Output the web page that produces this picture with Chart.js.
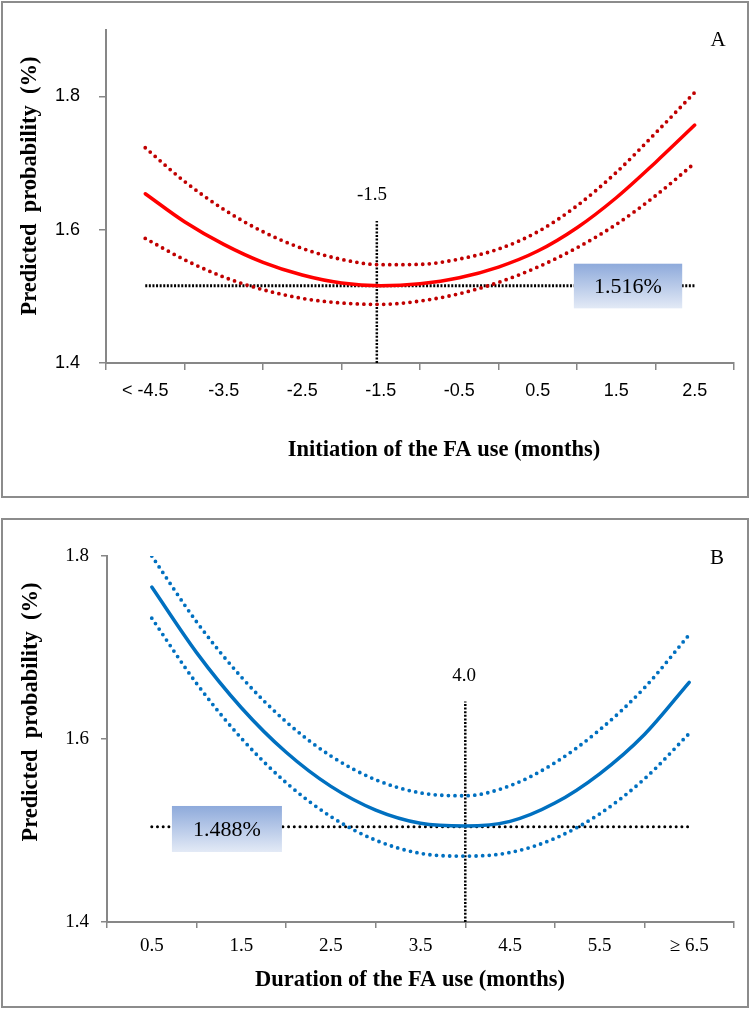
<!DOCTYPE html>
<html>
<head>
<meta charset="utf-8">
<script src="https://cdn.jsdelivr.net/npm/chart.js@4.4.0/dist/chart.umd.min.js"></script>
<style>
  body { margin: 0; background: #fff; }
  #page { position: relative; width: 750px; height: 1009px; overflow: hidden; }
  canvas { position: absolute; left: 0; }
  .frame { position: absolute; left: 1px; width: 744px; border: 2px solid #8c8c8c; pointer-events: none; }
</style>
</head>
<body>
<div id="page">
  <canvas id="chartA" width="750" height="500" style="top:0"></canvas>
  <canvas id="chartB" width="750" height="499" style="top:510px"></canvas>
  <div class="frame" style="top:1px;height:493px"></div>
  <div class="frame" style="top:518px;height:486px"></div>
</div>
<script>
// Panel A - initiation of FA use
const xA = [-4.5, -4, -3.5, -3, -2.5, -2, -1.5, -1, -0.5, 0, 0.5, 1, 1.5, 2, 2.5];
const predA = [1.654, 1.612, 1.578, 1.551, 1.532, 1.520, 1.516, 1.519, 1.528, 1.544, 1.568, 1.603, 1.648, 1.701, 1.757];
const upperA = [1.723, 1.6725, 1.6305, 1.597, 1.572, 1.5555, 1.5475, 1.548, 1.556, 1.571, 1.597, 1.636, 1.686, 1.745, 1.806];
const lowerA = [1.587, 1.555, 1.529, 1.510, 1.497, 1.490, 1.488, 1.493, 1.504, 1.521, 1.544, 1.573, 1.608, 1.651, 1.700];
const xTicksA = [-4.5, -3.5, -2.5, -1.5, -0.5, 0.5, 1.5, 2.5];
const xLabelsA = ['< -4.5', '-3.5', '-2.5', '-1.5', '-0.5', '0.5', '1.5', '2.5'];
const yTicksA = [1.4, 1.6, 1.8];
const refA = { x: -1.55, yTop: 1.613, level: 1.516, label: '1.516%' };

// Panel B - duration of FA use
const xB = [0.5, 1, 1.5, 2, 2.5, 3, 3.5, 4, 4.5, 5, 5.5, 6, 6.5];
const predB = [1.766, 1.6944, 1.6342, 1.5855, 1.5482, 1.5223, 1.5079, 1.5049, 1.510, 1.530, 1.562, 1.605, 1.662];
const upperB = [1.800, 1.7281, 1.6677, 1.6188, 1.5814, 1.5555, 1.5411, 1.538, 1.549, 1.574, 1.610, 1.656, 1.714];
const lowerB = [1.732, 1.6607, 1.6008, 1.5523, 1.5152, 1.4894, 1.475, 1.472, 1.476, 1.4914, 1.5182, 1.5564, 1.606];
const xTicksB = [0.5, 1.5, 2.5, 3.5, 4.5, 5.5, 6.5];
const xLabelsB = ['0.5', '1.5', '2.5', '3.5', '4.5', '5.5', '\u2265 6.5'];
const yTicksB = [1.4, 1.6, 1.8];
const refB = { x: 4.0, yTop: 1.641, level: 1.504, label: '1.488%' };

const SERIF = '"Liberation Serif", "Times New Roman", serif';
const SANS = '"Liberation Sans", Arial, sans-serif';
const AXIS_GREY = '#878787';

function toPoints(xs, ys) {
  return xs.map((x, i) => ({ x: x, y: ys[i] }));
}

// Boxes and free text (axis titles, panel letters, reference labels)
const decorPlugin = {
  id: 'decor',
  afterDatasetsDraw(chart, args, opts) {
    const ctx = chart.ctx;
    const xs = chart.scales.x;
    const ys = chart.scales.y;
    (opts.boxes || []).forEach(b => {
      const l = xs.getPixelForValue(b.x0);
      const r = xs.getPixelForValue(b.x1);
      const t = ys.getPixelForValue(b.y1);
      const bt = ys.getPixelForValue(b.y0);
      const g = ctx.createLinearGradient(0, t, 0, bt);
      g.addColorStop(0, '#8eaadb');
      g.addColorStop(1, '#e3eaf6');
      ctx.save();
      ctx.fillStyle = g;
      ctx.fillRect(l, t, r - l, bt - t);
      ctx.fillStyle = '#000';
      ctx.font = '22px ' + SERIF;
      ctx.textAlign = 'center';
      ctx.textBaseline = 'middle';
      ctx.fillText(b.text, (l + r) / 2, (t + bt) / 2 + 1);
      ctx.restore();
    });
  },
  afterDraw(chart, args, opts) {
    const ctx = chart.ctx;
    (opts.texts || []).forEach(t => {
      ctx.save();
      ctx.fillStyle = '#000';
      ctx.font = t.font;
      ctx.textAlign = 'center';
      ctx.textBaseline = 'middle';
      ctx.translate(t.x, t.y);
      if (t.rotate) ctx.rotate(-Math.PI / 2);
      ctx.fillText(t.text, 0, 0);
      ctx.restore();
    });
  }
};

function curve(label, xs, ys, color, dotted) {
  return {
    label: label,
    data: toPoints(xs, ys),
    borderColor: color,
    borderWidth: dotted ? 3.8 : 3.5,
    borderDash: dotted ? [0, 6.6] : [],
    borderCapStyle: 'round',
    pointRadius: 0,
    cubicInterpolationMode: 'monotone',
    fill: false
  };
}

function refLine(label, pts, width, dash, cap) {
  return {
    label: label,
    data: pts,
    borderColor: '#000',
    borderWidth: width,
    borderDash: dash,
    borderCapStyle: cap,
    pointRadius: 0,
    tension: 0,
    fill: false,
    clip: false
  };
}

function makeChart(id, cfg) {
  return new Chart(document.getElementById(id), {
    type: 'line',
    data: { datasets: cfg.datasets },
    options: {
      responsive: false,
      animation: false,
      layout: { padding: { top: cfg.padTop, right: 16, left: 0, bottom: 0 } },
      plugins: {
        legend: { display: false },
        tooltip: { enabled: false },
        decor: { boxes: cfg.boxes, texts: cfg.texts }
      },
      scales: {
        x: {
          type: 'linear',
          min: cfg.xMin,
          max: cfg.xMax,
          afterBuildTicks: s => { s.ticks = cfg.xTicks.map(v => ({ value: v })); },
          afterFit: s => { s.height = cfg.xHeight; },
          ticks: {
            callback: (v, i) => cfg.xLabels[i],
            font: cfg.tickFont,
            color: '#000',
            padding: cfg.xPad,
            maxRotation: 0,
            autoSkip: false
          },
          grid: { offset: true, drawOnChartArea: false, tickLength: cfg.tickLen, color: AXIS_GREY, lineWidth: 1.5 },
          border: { color: AXIS_GREY, width: 2 }
        },
        y: {
          type: 'linear',
          min: 1.4,
          max: cfg.yMax,
          afterBuildTicks: s => { s.ticks = cfg.yTicks.map(v => ({ value: v })); },
          afterFit: s => { s.width = cfg.yWidth; },
          ticks: {
            callback: v => v.toFixed(1),
            font: cfg.tickFont,
            color: '#000',
            padding: cfg.yPad
          },
          grid: { drawOnChartArea: false, tickLength: cfg.tickLen, color: AXIS_GREY, lineWidth: 1.5 },
          border: { color: AXIS_GREY, width: 2 }
        }
      }
    },
    plugins: [decorPlugin]
  });
}

makeChart('chartA', {
  datasets: [
    curve('Predicted', xA, predA, '#ff0000', false),
    curve('Upper 95% CI', xA, upperA, '#c00000', true),
    curve('Lower 95% CI', xA, lowerA, '#c00000', true),
    refLine('Minimum level', [{ x: xA[0], y: refA.level }, { x: xA[xA.length - 1], y: refA.level }], 3, [2, 1.6], 'butt'),
    refLine('Minimum point', [{ x: refA.x, y: 1.4 }, { x: refA.x, y: refA.yTop }], 2.5, [2, 1.6], 'butt')
  ],
  padTop: 27, xMin: -5, xMax: 3, yMax: 1.9,
  xTicks: xTicksA, xLabels: xLabelsA, yTicks: yTicksA,
  xHeight: 137, yWidth: 106, tickLen: 7, xPad: 10, yPad: 19,
  tickFont: { family: SANS, size: 18 },
  boxes: [{ x0: 0.96, x1: 2.34, y0: 1.482, y1: 1.549, text: refA.label }],
  texts: [
    { text: '-1.5', x: 372, y: 195, font: '19px ' + SERIF },
    { text: 'A', x: 718, y: 40, font: '21px ' + SERIF },
    { text: 'Predicted  probability  (%)', x: 30, y: 186, rotate: true, font: 'bold 22.5px ' + SERIF },
    { text: 'Initiation of the FA use (months)', x: 444, y: 450, font: 'bold 22.5px ' + SERIF }
  ]
});

makeChart('chartB', {
  datasets: [
    curve('Predicted', xB, predB, '#0070c0', false),
    curve('Upper 95% CI', xB, upperB, '#0070c0', true),
    curve('Lower 95% CI', xB, lowerB, '#0070c0', true),
    refLine('Minimum level', [{ x: xB[0], y: refB.level }, { x: xB[xB.length - 1], y: refB.level }], 3, [0, 5.7], 'round'),
    refLine('Minimum point', [{ x: refB.x, y: 1.4 }, { x: refB.x, y: refB.yTop }], 2.5, [2, 1.6], 'butt')
  ],
  padTop: 46, xMin: 0, xMax: 7, yMax: 1.8,
  xTicks: xTicksB, xLabels: xLabelsB, yTicks: yTicksB,
  xHeight: 87, yWidth: 107, tickLen: 6, xPad: 7, yPad: 12,
  tickFont: { family: SERIF, size: 19 },
  boxes: [{ x0: 0.725, x1: 1.953, y0: 1.4765, y1: 1.5268, text: refB.label }],
  texts: [
    { text: '4.0', x: 464, y: 166, font: '19px ' + SERIF },
    { text: 'B', x: 717, y: 48, font: '21px ' + SERIF },
    { text: 'Predicted  probability  (%)', x: 31, y: 202, rotate: true, font: 'bold 22.5px ' + SERIF },
    { text: 'Duration of the FA use (months)', x: 410, y: 470, font: 'bold 22.5px ' + SERIF }
  ]
});
</script>
</body>
</html>
